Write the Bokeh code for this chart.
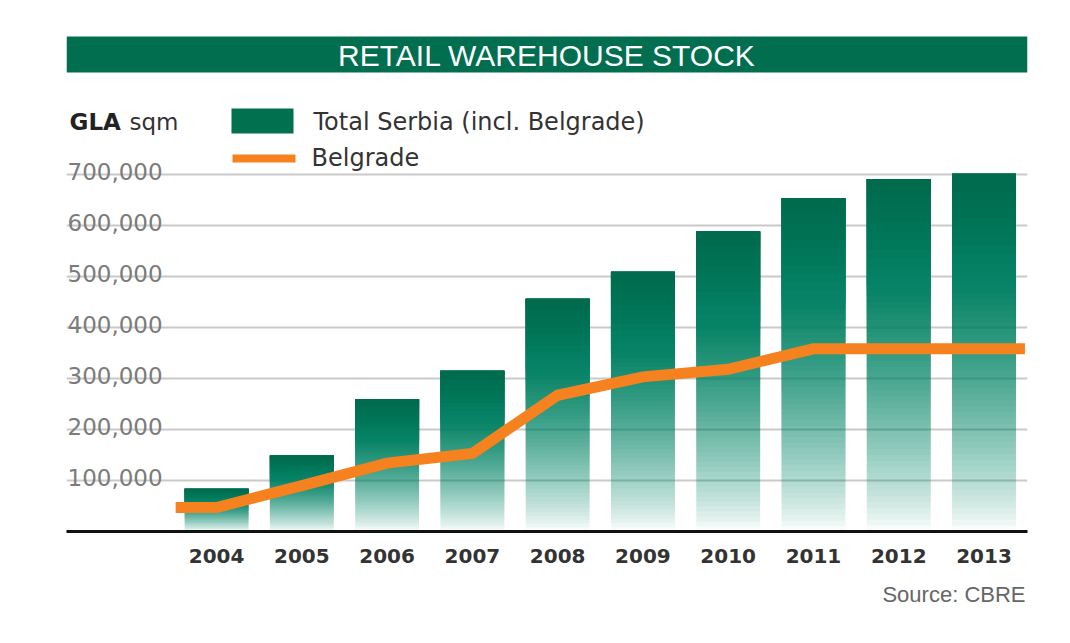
from bokeh.plotting import figure
from bokeh.models import (Range1d, FixedTicker, Label, BoxAnnotation, Title)
from bokeh.embed import file_html
from bokeh.resources import INLINE

# ---------------- data ----------------
years = [2004, 2005, 2006, 2007, 2008, 2009, 2010, 2011, 2012, 2013]
total_serbia = [84000, 149000, 259000, 315000, 456000, 509000, 588000, 653000, 691000, 701000]
belgrade = [47000, 90000, 134000, 153000, 267000, 303000, 318000, 358000, 358000, 358000]
y_ticks = [100000, 200000, 300000, 400000, 500000, 600000, 700000]
y_tick_labels = ["100,000", "200,000", "300,000", "400,000", "500,000", "600,000", "700,000"]
title_text = "RETAIL WAREHOUSE STOCK"
series_names = ["Total Serbia (incl. Belgrade)", "Belgrade"]
unit_bold, unit_rest = "GLA", "sqm"
source_text = "Source: CBRE"

# ---------------- styles ----------------
GREEN_DARK = (0, 106, 77)
GREEN_BASE = (6, 130, 102)
LEGEND_GREEN = "#00704F"
ORANGE = "#F5821F"
BAR_W = 0.75
X0, X1 = 2002.24, 2013.51
Y1 = 1025000
FONT = "DejaVu Sans"

p = figure(width=1054, height=627, x_range=Range1d(X0, X1), y_range=Range1d(0, Y1),
           output_backend="svg", toolbar_location=None,
           min_border_left=66, min_border_right=27, min_border_top=8, min_border_bottom=96)
p.outline_line_color = None
p.background_fill_color = "white"
p.xgrid.visible = False
p.yaxis.visible = False
p.ygrid.ticker = FixedTicker(ticks=y_ticks)
p.ygrid.grid_line_color = "#c9c9c9"
p.ygrid.grid_line_width = 2

ax = p.xaxis[0]
ax.ticker = FixedTicker(ticks=years)
ax.major_label_overrides = {y: str(y) for y in years}
ax.major_tick_line_color = None
ax.minor_tick_line_color = None
ax.axis_line_width = 3
ax.axis_line_color = "#111111"
ax.major_label_text_font = FONT
ax.major_label_text_font_style = "bold"
ax.major_label_text_font_size = "20px"
ax.major_label_text_color = "#333333"
ax.major_label_standoff = 11


def hexc(c):
    return "#%02x%02x%02x" % c


def nested_layers(values, xs, width, profile, n):
    """Stacked translucent quads (all ending at the bar top) that build a vertical gradient."""
    L, R, B, T, A = [], [], [], [], []
    for x, v in zip(xs, values):
        prev = 0.0
        for j in range(1, n + 1):
            if prev >= 1.0:
                break
            f = (j - 0.5) / n
            target = max(prev, min(1.0, profile(f)))
            a = 1.0 - (1.0 - target) / (1.0 - prev)
            prev = target
            if a <= 1e-4:
                continue
            L.append(x - width / 2)
            R.append(x + width / 2)
            B.append(v * (j - 1) / n)
            T.append(v)
            A.append(a)
    return dict(left=L, right=R, bottom=B, top=T, alpha=A)


base = nested_layers(total_serbia, years, BAR_W, lambda f: min(1.0, f / 0.7) ** 0.8, 60)
p.quad(left="left", right="right", bottom="bottom", top="top", fill_alpha="alpha",
       source=base, fill_color=hexc(GREEN_BASE), line_color=None)
dark = nested_layers(total_serbia, years, BAR_W, lambda f: max(0.0, (f - 0.72) / 0.28), 40)
p.quad(left="left", right="right", bottom="bottom", top="top", fill_alpha="alpha",
       source=dark, fill_color=hexc(GREEN_DARK), line_color=None)

# Belgrade line, extended flat half a category on each side
ext = 0.48
line_x = [years[0] - ext] + years + [years[-1] + ext]
line_y = [belgrade[0]] + belgrade + [belgrade[-1]]
p.line(line_x, line_y, line_color=ORANGE, line_width=11, line_join="miter", line_cap="butt")

# y tick labels sitting above the gridlines
p.text(x=[X0] * len(y_ticks), y=y_ticks, text=y_tick_labels, x_offset=1, y_offset=-3,
       text_align="left", text_baseline="alphabetic", text_font_size="23px",
       text_color="#7b7b7b", text_font={"value": FONT})

# title bar
p.add_layout(BoxAnnotation(left=X0, right=X1, top=495, bottom=459,
                           top_units="screen", bottom_units="screen",
                           fill_color="#006E4F", fill_alpha=1.0, line_color=None))
p.add_layout(Label(x=480.5, y=476, x_units="screen", y_units="screen", text=title_text,
                   text_align="center", text_baseline="middle", text_color="white",
                   text_font="Liberation Sans", text_font_size="30px"))

# unit label
p.add_layout(Label(x=3, y=410, x_units="screen", y_units="screen", text=unit_bold,
                   text_align="left", text_baseline="middle", text_color="#222222",
                   text_font=FONT, text_font_style="bold", text_font_size="23px"))
p.add_layout(Label(x=63, y=410, x_units="screen", y_units="screen", text=unit_rest,
                   text_align="left", text_baseline="middle", text_color="#333333",
                   text_font=FONT, text_font_size="23px"))

# legend (manual swatches + labels)
p.add_layout(BoxAnnotation(left=165, right=227, top=423, bottom=398,
                           left_units="screen", right_units="screen",
                           top_units="screen", bottom_units="screen",
                           fill_color=LEGEND_GREEN, fill_alpha=1.0, line_color=None))
p.add_layout(BoxAnnotation(left=166, right=229, top=377, bottom=369,
                           left_units="screen", right_units="screen",
                           top_units="screen", bottom_units="screen",
                           fill_color=ORANGE, fill_alpha=1.0, line_color=None))
p.add_layout(Label(x=247, y=410, x_units="screen", y_units="screen", text=series_names[0],
                   text_align="left", text_baseline="middle", text_color="#333333",
                   text_font=FONT, text_font_size="24px"))
p.add_layout(Label(x=245, y=374, x_units="screen", y_units="screen", text=series_names[1],
                   text_align="left", text_baseline="middle", text_color="#333333",
                   text_font=FONT, text_font_size="24px"))

# source note
p.add_layout(Title(text=source_text, align="right", offset=2, standoff=28,
                   vertical_align="bottom", text_baseline="top",
                   text_color="#666666", text_font="Liberation Sans",
                   text_font_size="22px", text_font_style="normal"), "below")

open("out.html", "w").write(file_html(p, INLINE))
